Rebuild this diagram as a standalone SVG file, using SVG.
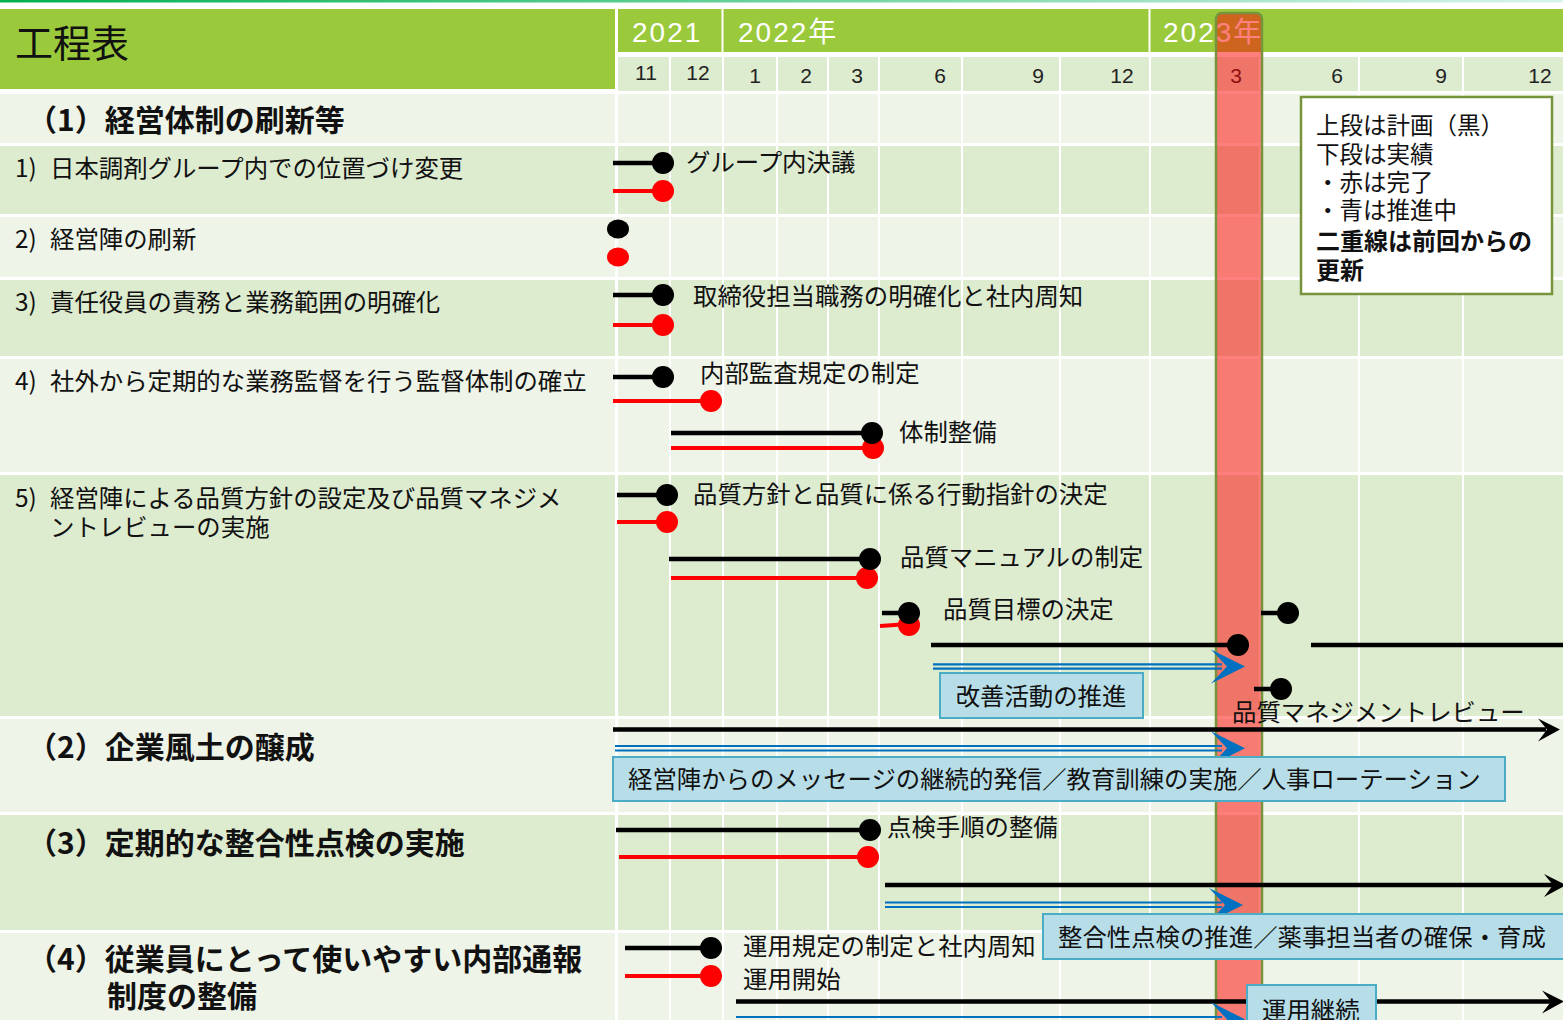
<svg xmlns="http://www.w3.org/2000/svg" width="1563" height="1020" viewBox="0 0 1563 1020">
<defs>
<linearGradient id="topg" x1="0" y1="0" x2="1" y2="0">
<stop offset="0" stop-color="#00B050"/>
<stop offset="1" stop-color="#D8F4EC"/>
</linearGradient>
<path id="bhead" d="M0,0 L-34,-17 L-18,0 L-34,17 Z" fill="#0070C0"/>
<path id="khead" d="M0,0 L-22,-11 L-13,0 L-22,12 Z" fill="#000"/>
<style>
.jp{font-family:"Noto Sans CJK JP","Noto Sans CJK SC",sans-serif;fill:#111}
.lat{font-family:"Liberation Sans","Noto Sans CJK JP",sans-serif}
.yr{font-size:28px;fill:#fff;letter-spacing:2px}
.mo{font-size:21px;fill:#222;text-anchor:middle}
.sec{font-size:30px;font-weight:bold}
.item{font-size:24.4px}
.lbl{font-size:24.4px}
.leg{font-size:23.5px}
.dk{fill:#DDEBCF}
.lt{fill:#EEF4E7}
.gr{fill:#9ACA3C}
.vl{stroke:#fff;stroke-width:2}
.kl{stroke:#000;stroke-width:4.5;fill:none}
.rl{stroke:#F00;stroke-width:4;fill:none}
.bl{stroke:#0070C0;stroke-width:2.2;fill:none}
.kd{fill:#000}
.rd{fill:#F00}
.box{fill:#B7DEE8;stroke:#4BACC6;stroke-width:2}
</style>
</defs>
<rect x="0" y="0" width="1563" height="1020" fill="#fff"/>
<rect x="0" y="0" width="1563" height="2.5" fill="url(#topg)"/>

<!-- header -->
<g id="header">
<rect class="gr" x="0" y="9" width="615" height="80"/>
<rect class="gr" x="618" y="9" width="945" height="43"/>
<line class="vl" x1="722.5" y1="9" x2="722.5" y2="52" stroke-width="3"/>
<line class="vl" x1="1149.5" y1="9" x2="1149.5" y2="52" stroke-width="3"/>
<rect class="dk" x="618" y="57" width="945" height="34"/>
<g stroke="#fff" stroke-width="2">
<line x1="670" y1="55" x2="670" y2="94"/><line x1="723" y1="55" x2="723" y2="94"/>
<line x1="777" y1="55" x2="777" y2="94"/><line x1="828" y1="55" x2="828" y2="94"/>
<line x1="879" y1="55" x2="879" y2="94"/><line x1="962" y1="55" x2="962" y2="94"/>
<line x1="1060" y1="55" x2="1060" y2="94"/><line x1="1150" y1="55" x2="1150" y2="94"/>
<line x1="1260" y1="55" x2="1260" y2="94"/><line x1="1359" y1="55" x2="1359" y2="94"/>
<line x1="1463" y1="55" x2="1463" y2="94"/>
</g>
<text class="jp" x="15" y="57" font-size="38">工程表</text>
<text class="lat yr" x="632" y="42">2021</text>
<text class="lat yr" x="738" y="42">2022年</text>
<text class="lat yr" x="1163" y="42">2023年</text>
<text class="lat mo" x="646" y="80" font-size="16">11</text>
<text class="lat mo" x="698" y="80" font-size="16">12</text>
<text class="lat mo" x="755" y="83">1</text>
<text class="lat mo" x="806" y="83">2</text>
<text class="lat mo" x="857" y="83">3</text>
<text class="lat mo" x="940" y="83">6</text>
<text class="lat mo" x="1038" y="83">9</text>
<text class="lat mo" x="1122" y="83">12</text>
<text class="lat mo" x="1236" y="83">3</text>
<text class="lat mo" x="1337" y="83">6</text>
<text class="lat mo" x="1441" y="83">9</text>
<text class="lat mo" x="1540" y="83">12</text>
</g>

<!-- body rows -->
<g id="rows">
<rect class="lt" x="0" y="94" width="1563" height="49"/>
<rect class="dk" x="0" y="146" width="1563" height="68"/>
<rect class="lt" x="0" y="217" width="1563" height="60"/>
<rect class="dk" x="0" y="280" width="1563" height="76"/>
<rect class="lt" x="0" y="359" width="1563" height="113"/>
<rect class="dk" x="0" y="475" width="1563" height="241"/>
<rect class="lt" x="0" y="719" width="1563" height="93"/>
<rect class="dk" x="0" y="815" width="1563" height="115"/>
<rect class="lt" x="0" y="933" width="1563" height="87"/>
<g stroke="#fff" stroke-width="2">
<line x1="616.5" y1="91" x2="616.5" y2="1020" stroke-width="3"/>
<line x1="670" y1="94" x2="670" y2="1020"/><line x1="723" y1="94" x2="723" y2="1020"/>
<line x1="777" y1="94" x2="777" y2="1020"/><line x1="828" y1="94" x2="828" y2="1020"/>
<line x1="879" y1="94" x2="879" y2="1020"/><line x1="962" y1="94" x2="962" y2="1020"/>
<line x1="1060" y1="94" x2="1060" y2="1020"/><line x1="1150" y1="94" x2="1150" y2="1020"/>
<line x1="1260" y1="94" x2="1260" y2="1020"/><line x1="1359" y1="94" x2="1359" y2="1020"/>
<line x1="1463" y1="94" x2="1463" y2="1020"/>
</g>
</g>

<!-- current month band -->
<rect id="band" x="1216" y="13" width="46" height="1015" rx="6" fill="#FF0000" fill-opacity="0.5" stroke="#77933C" stroke-width="2.5"/>

<!-- row labels -->
<g id="sec1"><text class="jp sec" x="27" y="131">（1）経営体制の刷新等</text></g>
<g id="item1"><text class="jp item" x="15" y="177">1)</text><text class="jp item" x="50" y="177">日本調剤グループ内での位置づけ変更</text></g>
<g id="item2"><text class="jp item" x="15" y="248">2)</text><text class="jp item" x="50" y="248">経営陣の刷新</text></g>
<g id="item3"><text class="jp item" x="15" y="311">3)</text><text class="jp item" x="50" y="311">責任役員の責務と業務範囲の明確化</text></g>
<g id="item4"><text class="jp item" x="15" y="390">4)</text><text class="jp item" x="50" y="390">社外から定期的な業務監督を行う監督体制の確立</text></g>
<g id="item5"><text class="jp item" x="15" y="507">5)</text><text class="jp item" x="50" y="507">経営陣による品質方針の設定及び品質マネジメ</text><text class="jp item" x="50" y="536">ントレビューの実施</text></g>
<g id="sec2"><text class="jp sec" x="27" y="758">（2）企業風土の醸成</text></g>
<g id="sec3"><text class="jp sec" x="27" y="854">（3）定期的な整合性点検の実施</text></g>
<g id="sec4"><text class="jp sec" x="27" y="970">（4）従業員にとって使いやすい内部通報</text><text class="jp sec" x="107" y="1007">制度の整備</text></g>

<!-- connectors -->
<g id="connectors">
<!-- 1) -->
<line class="kl" x1="613" y1="163" x2="663" y2="163"/><circle class="kd" cx="663" cy="163" r="11"/>
<line class="rl" x1="613" y1="191" x2="663" y2="191"/><circle class="rd" cx="663" cy="191" r="11"/>
<!-- 2) -->
<ellipse class="kd" cx="618" cy="229" rx="11" ry="9.5"/>
<ellipse class="rd" cx="618" cy="257" rx="11" ry="9.5"/>
<!-- 3) -->
<line class="kl" x1="613" y1="295" x2="663" y2="295"/><circle class="kd" cx="663" cy="295" r="11"/>
<line class="rl" x1="613" y1="325" x2="663" y2="325"/><circle class="rd" cx="663" cy="325" r="11"/>
<!-- 4) -->
<line class="kl" x1="613" y1="377" x2="663" y2="377"/><circle class="kd" cx="663" cy="377" r="11"/>
<line class="rl" x1="613" y1="401" x2="711" y2="401"/><circle class="rd" cx="711" cy="401" r="11"/>
<line class="rl" x1="671" y1="448" x2="873" y2="448"/><circle class="rd" cx="873" cy="448" r="11"/>
<line class="kl" x1="671" y1="433" x2="872" y2="433"/><circle class="kd" cx="872" cy="433" r="11"/>
<!-- 5) -->
<line class="kl" x1="617" y1="495" x2="667" y2="495"/><circle class="kd" cx="667" cy="495" r="11"/>
<line class="rl" x1="617" y1="522" x2="667" y2="522"/><circle class="rd" cx="667" cy="522" r="11"/>
<line class="rl" x1="671" y1="578" x2="867" y2="578"/><circle class="rd" cx="867" cy="578" r="11"/>
<line class="kl" x1="669" y1="559" x2="870" y2="559"/><circle class="kd" cx="870" cy="559" r="11"/>
<line class="rl" x1="880" y1="626" x2="909" y2="624"/><circle class="rd" cx="909" cy="625" r="11"/>
<line class="kl" x1="882" y1="613" x2="909" y2="613"/><circle class="kd" cx="909" cy="613" r="11"/>
<line class="kl" x1="931" y1="645" x2="1238" y2="645"/><circle class="kd" cx="1238" cy="645" r="11"/>
<line class="bl" x1="933" y1="664.3" x2="1222" y2="664.3"/><line class="bl" x1="933" y1="668.7" x2="1222" y2="668.7"/>
<use href="#bhead" x="1245" y="666.5"/>
<line class="kl" x1="1261" y1="613" x2="1288" y2="613"/><circle class="kd" cx="1288" cy="613" r="11"/>
<line class="kl" x1="1311" y1="645" x2="1563" y2="645"/>
<line class="kl" x1="1254" y1="689" x2="1281" y2="689"/><circle class="kd" cx="1281" cy="689" r="11"/>
<!-- (2) -->
<line class="kl" x1="613" y1="729.5" x2="1546" y2="729.5"/><use href="#khead" x="1560" y="729.5"/>
<line class="bl" x1="615" y1="746" x2="1222" y2="746"/><line class="bl" x1="615" y1="750.5" x2="1222" y2="750.5"/>
<use href="#bhead" x="1245" y="748.3"/>
<!-- (3) -->
<line class="kl" x1="616" y1="830" x2="870" y2="830"/><circle class="kd" cx="870" cy="830" r="11"/>
<line class="rl" x1="619" y1="857" x2="868" y2="857"/><circle class="rd" cx="868" cy="857" r="11"/>
<line class="kl" x1="885" y1="885" x2="1555" y2="885"/><use href="#khead" x="1566" y="885"/>
<line class="bl" x1="885" y1="902.5" x2="1222" y2="902.5"/><line class="bl" x1="885" y1="907" x2="1222" y2="907"/>
<use href="#bhead" x="1243" y="905"/>
<!-- (4) -->
<line class="kl" x1="625" y1="948" x2="711" y2="948"/><circle class="kd" cx="711" cy="948" r="11"/>
<line class="rl" x1="625" y1="976" x2="711" y2="976"/><circle class="rd" cx="711" cy="976" r="11"/>
<line class="kl" x1="736" y1="1001.5" x2="1552" y2="1001.5"/><use href="#khead" x="1564" y="1001.5"/>
<line class="bl" x1="736" y1="1017" x2="1222" y2="1017"/><line class="bl" x1="736" y1="1021.5" x2="1222" y2="1021.5"/>
<use href="#bhead" x="1245" y="1019.3"/>
</g>

<!-- milestone labels and boxes -->
<g id="m1"><text class="jp lbl" x="686" y="171">グループ内決議</text></g>
<g id="m3"><text class="jp lbl" x="693" y="305">取締役担当職務の明確化と社内周知</text></g>
<g id="m4a"><text class="jp lbl" x="700" y="382">内部監査規定の制定</text></g>
<g id="m4b"><text class="jp lbl" x="899" y="441">体制整備</text></g>
<g id="m5a"><text class="jp lbl" x="693" y="503">品質方針と品質に係る行動指針の決定</text></g>
<g id="m5b"><text class="jp lbl" x="900" y="566">品質マニュアルの制定</text></g>
<g id="m5c"><text class="jp lbl" x="943" y="618">品質目標の決定</text></g>
<g id="box5"><rect class="box" x="940" y="673" width="203" height="45"/><text class="jp lbl" x="1041" y="705" text-anchor="middle">改善活動の推進</text></g>
<g id="m5d"><text class="jp lbl" x="1232" y="721">品質マネジメントレビュー</text></g>
<g id="box2"><rect class="box" x="613" y="757" width="892" height="44"/><text class="jp lbl" x="628" y="788">経営陣からのメッセージの継続的発信／教育訓練の実施／人事ローテーション</text></g>
<g id="m3a"><text class="jp lbl" x="887" y="836">点検手順の整備</text></g>
<g id="box3"><rect class="box" x="1043" y="914" width="530" height="45"/><text class="jp lbl" x="1058" y="946">整合性点検の推進／薬事担当者の確保・育成</text></g>
<g id="m4c"><text class="jp lbl" x="743" y="955">運用規定の制定と社内周知</text><text class="jp lbl" x="743" y="988">運用開始</text></g>
<g id="box4"><rect class="box" x="1247" y="985" width="129" height="50"/><text class="jp lbl" x="1262" y="1019">運用継続</text></g>

<!-- legend -->
<g id="legend">
<rect x="1301" y="97" width="251" height="197" fill="#fff" stroke="#77933C" stroke-width="2.5"/>
<text class="jp leg" x="1316" y="134">上段は計画（黒）</text>
<text class="jp leg" x="1316" y="163">下段は実績</text>
<text class="jp leg" x="1316" y="191">・赤は完了</text>
<text class="jp leg" x="1316" y="219">・青は推進中</text>
<text class="jp" font-size="24" font-weight="bold" x="1316" y="250">二重線は前回からの</text>
<text class="jp" font-size="24" font-weight="bold" x="1316" y="279">更新</text>
</g>
</svg>
